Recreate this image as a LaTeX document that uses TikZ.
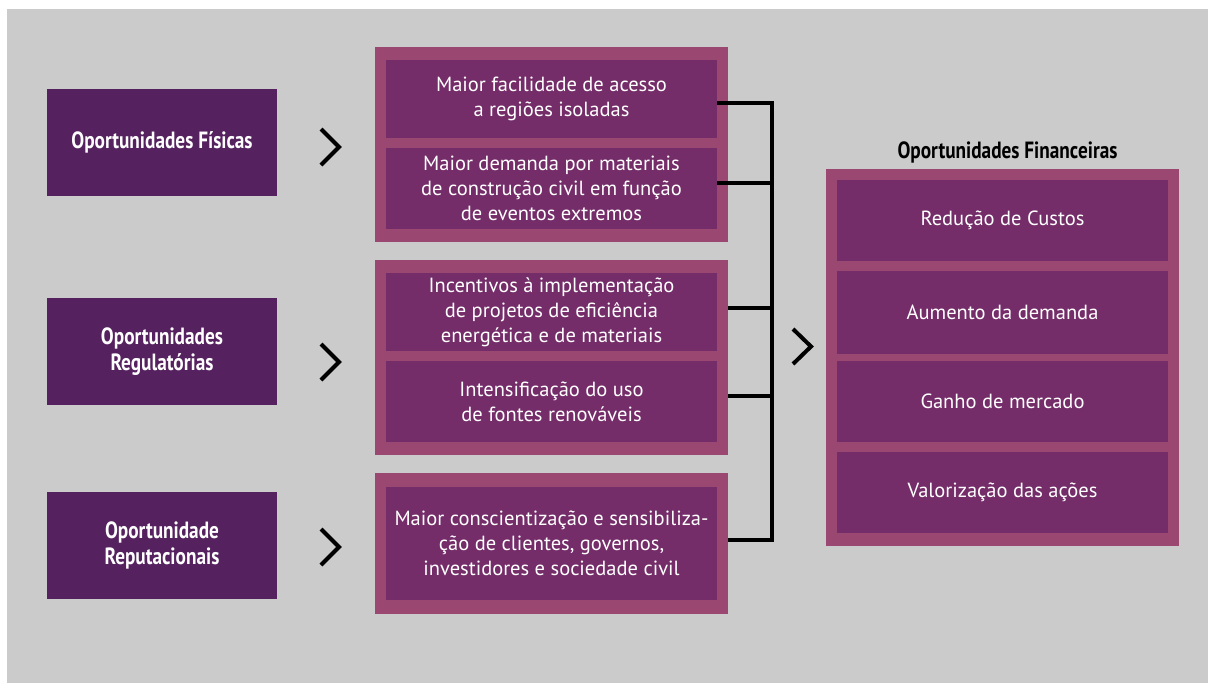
\documentclass[tikz,border=0pt]{standalone}
\usepackage{fontspec}
\setmainfont{PT Sans}
\newfontfamily\condbold{PT Sans}[FakeStretch=0.82]
\definecolor{bggrey}{HTML}{CBCBCB}
\definecolor{dpurple}{HTML}{55215F}
\definecolor{outerc}{HTML}{9A4872}
\definecolor{innerc}{HTML}{742D69}
\tikzset{
  leftbox/.style={fill=dpurple, minimum width=230pt, minimum height=107pt, inner sep=0pt,
    text=white, align=center, font=\condbold\bfseries\fontsize{23.5}{26}\selectfont},
  outerbox/.style={fill=outerc, minimum width=353pt, inner sep=0pt},
  innerbox/.style={fill=innerc, minimum width=331pt, inner sep=0pt,
    text=white, align=center, font=\fontsize{20.5}{25}\selectfont},
  conn/.style={line width=4.3pt, black},
  chev/.style={line width=4pt, black, line join=miter},
}
\begin{document}
\begin{tikzpicture}[x=1pt,y=-1pt]
\useasboundingbox (0,0) rectangle (1208,683);
\fill[white] (0,0) rectangle (1208,683);
\fill[bggrey] (7,9) rectangle (1208,683);

% left boxes
\node[leftbox] (l1) at (162,142.5) {Oportunidades Físicas};
\node[leftbox] (l2) at (162,351.5) {Oportunidades\\Regulatórias};
\node[leftbox] (l3) at (162,545.5) {Oportunidade\\Reputacionais};

% chevrons
\draw[chev] (321,129) -- (339,147) -- (321,165);
\draw[chev] (321,344) -- (339,362) -- (321,380);
\draw[chev] (321,529) -- (339,547) -- (321,565);
\draw[chev] (793,329) -- (811,346.5) -- (793,364);

% middle groups
\node[outerbox, minimum height=195pt] (g1) at (551.5,144.5) {};
\node[innerbox, minimum height=78pt] (m1) at (551.5,99) {Maior facilidade de acesso\\a regiões isoladas};
\node[innerbox, minimum height=81pt] (m2) at (551.5,188.5) {Maior demanda por materiais\\de construção civil em função\\de eventos extremos};

\node[outerbox, minimum height=195pt] (g2) at (551.5,357.5) {};
\node[innerbox, minimum height=78pt] (m3) at (551.5,312) {Incentivos à implementação\\de projetos de eficiência\\energética e de materiais};
\node[innerbox, minimum height=81pt] (m4) at (551.5,401.5) {Intensificação do uso\\de fontes renováveis};

\node[outerbox, minimum height=141pt] (g3) at (551.5,543.5) {};
\node[innerbox, minimum height=113pt] (m5) at (551.5,543.5) {Maior conscientização e sensibiliza-\\ção de clientes, governos,\\investidores e sociedade civil};

% right group
\node[font=\condbold\bfseries\fontsize{23.5}{26}\selectfont, text=black, inner sep=0pt] (title) at (1007.5,152) {Oportunidades Financeiras};
\node[outerbox, minimum height=377pt] (g4) at (1002.5,357.5) {};
\node[innerbox, minimum height=81pt] (r1) at (1002.5,220.5) {Redução de Custos};
\node[innerbox, minimum height=83pt] (r2) at (1002.5,312.5) {Aumento da demanda};
\node[innerbox, minimum height=81pt] (r3) at (1002.5,401.5) {Ganho de mercado};
\node[innerbox, minimum height=81pt] (r4) at (1002.5,492.5) {Valorização das ações};

% bracket
\coordinate (bt) at (770,103);
\coordinate (bb) at (770,540);
\coordinate (j2) at (770,183);
\coordinate (j3) at (770,308);
\coordinate (j4) at (770,396);
\draw[conn, line join=miter] (m1.east |- bt) -- ([xshift=2.15pt]bt) -- ([xshift=2.15pt]bt |- bb) -- (g3.east |- bb);
\draw[conn] (m2.east |- j2) -- (j2);
\draw[conn] (g2.east |- j3) -- (j3);
\draw[conn] (g2.east |- j4) -- (j4);
\end{tikzpicture}
\end{document}
